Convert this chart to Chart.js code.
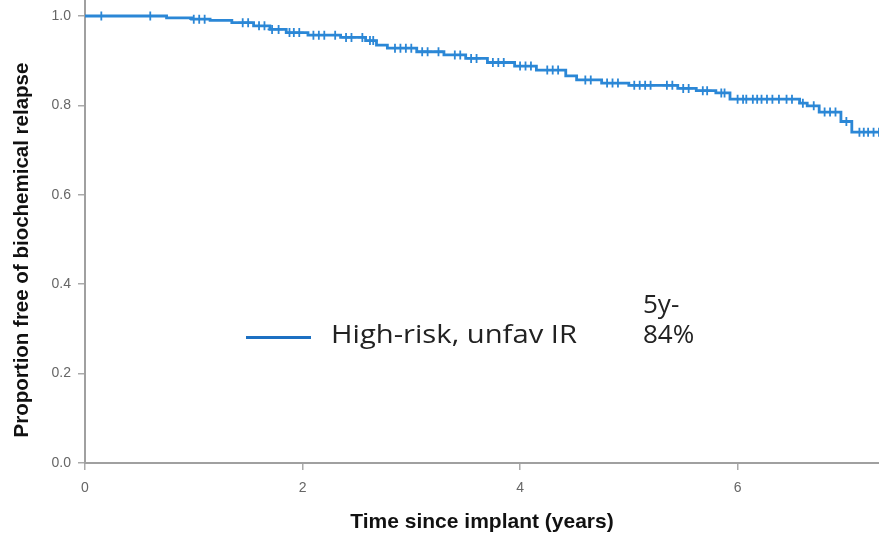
<!DOCTYPE html>
<html>
<head>
<meta charset="utf-8">
<script src="https://cdn.jsdelivr.net/npm/chart.js@4.4.1/dist/chart.umd.min.js"></script>
<style>
html,body{margin:0;padding:0;background:#fff;}
#wrap{position:relative;width:879px;height:539px;}
</style>
</head>
<body>
<div id="wrap"><canvas id="c" width="879" height="539"></canvas></div>
<script>
// Kaplan-Meier step points: time (years) and survival after the drop
const eventTimes = [0, 0.75, 0.98, 1.15, 1.35, 1.55, 1.70, 1.85, 2.05, 2.35, 2.58, 2.68, 2.78, 3.05, 3.30, 3.50, 3.70, 3.95, 4.15, 4.42, 4.52, 4.75, 5.00, 5.45, 5.62, 5.80, 5.93, 6.57, 6.64, 6.75, 6.95, 7.05, 7.30];
const survival   = [1.000, 0.996, 0.993, 0.990, 0.985, 0.978, 0.970, 0.963, 0.957, 0.952, 0.945, 0.935, 0.928, 0.920, 0.913, 0.905, 0.896, 0.888, 0.879, 0.866, 0.857, 0.850, 0.845, 0.838, 0.833, 0.828, 0.814, 0.805, 0.799, 0.785, 0.764, 0.740, 0.740];
// Censoring times (tick marks on the curve)
const censorTimes = [0.15, 0.6, 1.0, 1.05, 1.1, 1.45, 1.5, 1.6, 1.65, 1.72, 1.78, 1.88, 1.92, 1.97, 2.1, 2.15, 2.2, 2.3, 2.4, 2.45, 2.55, 2.62, 2.65, 2.85, 2.9, 2.95, 3.0, 3.1, 3.15, 3.25, 3.4, 3.45, 3.55, 3.6, 3.75, 3.8, 3.85, 4.0, 4.05, 4.1, 4.25, 4.3, 4.35, 4.6, 4.65, 4.8, 4.85, 4.9, 5.05, 5.1, 5.15, 5.2, 5.35, 5.4, 5.5, 5.55, 5.68, 5.72, 5.85, 5.88, 6.0, 6.05, 6.08, 6.14, 6.18, 6.22, 6.27, 6.32, 6.38, 6.45, 6.5, 6.6, 6.7, 6.8, 6.85, 6.9, 7.0, 7.12, 7.16, 7.2, 7.25, 7.3];
const xTicks = [0, 2, 4, 6];
const yTicks = [0, 0.2, 0.4, 0.6, 0.8, 1.0];
const xTitle = 'Time since implant (years)';
const yTitle = 'Proportion free of biochemical relapse';
const legendLabel = 'High-risk, unfav IR';
const legendNote = ['5y-', '84%'];

const curveColor = '#2b87d6';

function survAt(t) {
  let s = survival[0];
  for (let i = 0; i < eventTimes.length; i++) {
    if (eventTimes[i] <= t) s = survival[i];
  }
  return s;
}

const curveData = eventTimes.map((t, i) => ({x: t, y: survival[i]}));
const censorData = censorTimes.map(t => ({x: t, y: survAt(t)}));

const textPlugin = {
  id: 'legendText',
  afterDraw(chart) {
    const ctx = chart.ctx;
    ctx.save();
    // y-axis title
    ctx.save();
    ctx.translate(22, 250);
    ctx.rotate(-Math.PI / 2);
    ctx.fillStyle = '#111';
    ctx.font = 'bold 20.5px "Liberation Sans", Arial, sans-serif';
    ctx.textAlign = 'center';
    ctx.textBaseline = 'middle';
    ctx.fillText(yTitle, 0, 0);
    ctx.restore();
    // legend
    ctx.strokeStyle = '#1c70c2';
    ctx.lineWidth = 3;
    ctx.beginPath();
    ctx.moveTo(246, 337.5);
    ctx.lineTo(311, 337.5);
    ctx.stroke();
    ctx.fillStyle = '#222';
    ctx.textBaseline = 'alphabetic';
    ctx.textAlign = 'left';
    ctx.font = '25px "Open Sans", sans-serif';
    const w = ctx.measureText(legendLabel).width;
    ctx.save();
    ctx.translate(331, 343);
    ctx.scale(246 / w, 1);
    ctx.fillText(legendLabel, 0, 0);
    ctx.restore();
    ctx.font = '26px "Open Sans", sans-serif';
    ctx.fillText(legendNote[0], 643, 313);
    ctx.fillText(legendNote[1], 643, 343);
    ctx.restore();
  }
};

const axisFont = {family: '"Liberation Sans", Arial, sans-serif', size: 14};
const xTitleFont = {family: '"Liberation Sans", Arial, sans-serif', size: 21, weight: 'bold'};

new Chart(document.getElementById('c'), {
  type: 'scatter',
  data: {
    datasets: [
      {
        type: 'line',
        data: curveData,
        borderColor: curveColor,
        borderWidth: 2.8,
        stepped: 'before',
        pointRadius: 0,
        fill: false
      },
      {
        type: 'scatter',
        data: censorData,
        pointStyle: 'cross',
        pointRadius: 4.5,
        borderColor: curveColor,
        backgroundColor: curveColor,
        borderWidth: 1.8
      }
    ]
  },
  options: {
    responsive: false,
    animation: false,
    layout: {padding: 0, autoPadding: false},
    plugins: {legend: {display: false}, tooltip: {enabled: false}},
    scales: {
      x: {
        type: 'linear',
        min: 0,
        max: 7.3,
        afterBuildTicks: s => { s.ticks = xTicks.map(v => ({value: v})); },
        afterFit: s => { s.height = 76; s.paddingLeft = 0; s.paddingRight = 0; },
        ticks: {color: '#666', font: axisFont, padding: 10, callback: v => String(v)},
        grid: {drawOnChartArea: false, drawTicks: true, tickLength: 7, color: '#aaa', lineWidth: 1.5},
        border: {color: '#a0a0a0', width: 2},
        title: {display: true, text: xTitle, color: '#111', font: xTitleFont, padding: {top: 4, bottom: 4}}
      },
      y: {
        type: 'linear',
        min: 0,
        max: 1.0358,
        afterBuildTicks: s => { s.ticks = yTicks.map(v => ({value: v})); },
        afterFit: s => { s.width = 85; s.paddingTop = 0; s.paddingBottom = 0; },
        ticks: {color: '#666', font: axisFont, padding: 7, callback: v => v.toFixed(1)},
        grid: {drawOnChartArea: false, drawTicks: true, tickLength: 7, color: '#aaa', lineWidth: 1.5},
        border: {color: '#a0a0a0', width: 2},
        title: {display: false}
      }
    }
  },
  plugins: [textPlugin]
});
</script>
</body>
</html>
